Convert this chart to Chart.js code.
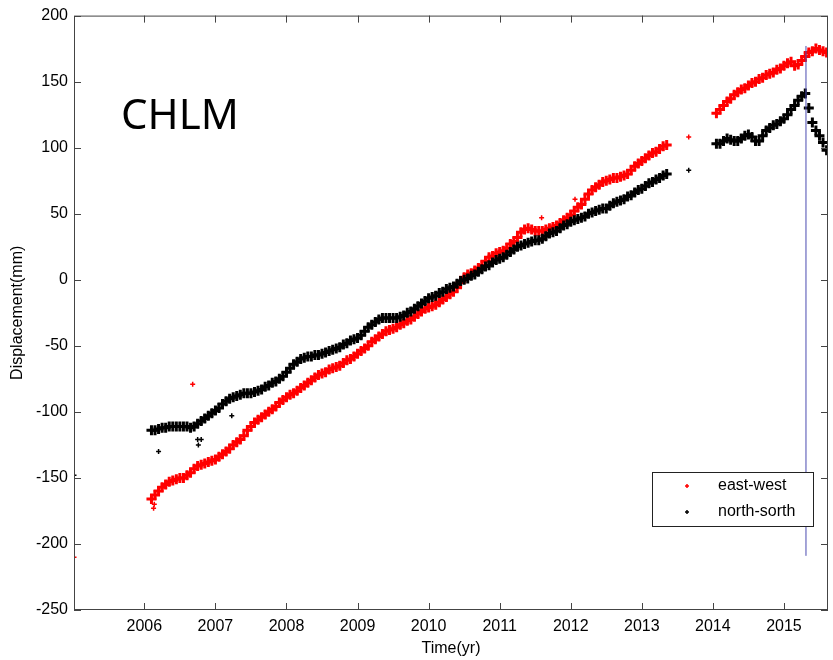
<!DOCTYPE html>
<html lang="en">
<head>
    <meta charset="UTF-8">
    <title>CHLM displacement</title>
    <script src="https://cdn.jsdelivr.net/npm/chart.js"></script>
    <style>
        body {
            margin: 0;
            background: white;
            overflow: hidden;
        }
        canvas {
            display: block;
        }
    </style>
</head>
<body>
    <canvas id="grafico" width="833" height="660"></canvas>

    <script>
        // epochs (decimal year) shared by both components
        const epochs = [
            2006.10,2006.15,2006.20,2006.25,2006.30,2006.35,2006.40,2006.45,2006.50,2006.55,2006.60,2006.65,2006.70,2006.75,2006.80,2006.85,2006.90,2006.95,
            2007.00,2007.05,2007.10,2007.15,2007.20,2007.25,2007.30,2007.35,2007.40,2007.45,2007.50,2007.55,2007.60,2007.65,2007.70,2007.75,2007.80,2007.85,2007.90,2007.95,
            2008.00,2008.05,2008.10,2008.15,2008.20,2008.25,2008.30,2008.35,2008.40,2008.45,2008.50,2008.55,2008.60,2008.65,2008.70,2008.75,2008.80,2008.85,2008.90,2008.95,
            2009.00,2009.05,2009.10,2009.15,2009.20,2009.25,2009.30,2009.35,2009.40,2009.45,2009.50,2009.55,2009.60,2009.65,2009.70,2009.75,2009.80,2009.85,2009.90,2009.95,
            2010.00,2010.05,2010.10,2010.15,2010.20,2010.25,2010.30,2010.35,2010.40,2010.45,2010.50,2010.55,2010.60,2010.65,2010.70,2010.75,2010.80,2010.85,2010.90,2010.95,
            2011.00,2011.05,2011.10,2011.15,2011.20,2011.25,2011.30,2011.35,2011.40,2011.45,2011.50,2011.55,2011.60,2011.65,2011.70,2011.75,2011.80,2011.85,2011.90,2011.95,
            2012.00,2012.05,2012.10,2012.15,2012.20,2012.25,2012.30,2012.35,2012.40,2012.45,2012.50,2012.55,2012.60,2012.65,2012.70,2012.75,2012.80,2012.85,2012.90,2012.95,
            2013.00,2013.05,2013.10,2013.15,2013.20,2013.25,2013.30,2013.35,
            2014.05,2014.10,2014.15,2014.20,2014.25,2014.30,2014.35,2014.40,2014.45,2014.50,2014.55,2014.60,2014.65,2014.70,2014.75,2014.80,2014.85,2014.90,2014.95,
            2015.00,2015.05,2015.10,2015.15,2015.20,2015.25,2015.30,2015.35,2015.40,2015.45,2015.50,2015.55,2015.60
        ];

        const eastWest = [
            -166,-163,-160,-157,-155,-153,-152,-151,-150,-150,-148,-146,-143,-141,-140,-139,-138,-137,
            -136,-134,-132,-130,-128,-125,-123,-121,-118,-114,-111,-108,-106,-104,-102,-100,-98,-96,-93,-91,
            -89,-87,-86,-84,-82,-80,-78,-76,-74,-72,-71,-70,-68,-67,-66,-65,-63,-61,-60,-58,
            -56,-54,-52,-50,-47,-45,-43,-41,-39,-38,-37,-36,-34,-33,-31,-30,-28,-26,-24,-22,
            -21,-20,-19,-17,-15,-13,-11,-9,-6,-2,2,4,5,7,9,11,14,17,18,20,
            21,22,24,27,29,32,36,38,39,38,37,37,37,38,39,40,41,43,45,47,
            49,52,55,57,61,65,68,70,72,74,75,76,77,77,78,79,80,83,86,88,
            90,92,94,96,97,99,101,102,
            126,129,132,135,137,140,142,144,145,147,149,150,152,153,155,156,157,159,160,
            162,164,165,162,163,166,169,172,173,175,174,173,172
        ];

        const northSouth = [
            -114,-114,-113,-112,-112,-111,-111,-111,-111,-111,-111,-112,-111,-109,-107,-105,-103,-101,
            -99,-97,-94,-92,-90,-89,-88,-87,-86,-86,-86,-85,-84,-83,-81,-80,-78,-77,-75,-73,
            -70,-67,-64,-62,-60,-59,-58,-58,-57,-57,-56,-55,-54,-53,-52,-51,-49,-48,-46,-45,
            -44,-42,-39,-36,-34,-32,-30,-29,-29,-29,-29,-29,-28,-27,-25,-24,-22,-20,-18,-16,
            -14,-13,-12,-10,-9,-7,-6,-5,-3,-1,0,1,3,4,6,8,10,11,13,15,
            16,17,19,21,23,25,26,27,28,29,30,30,31,33,35,36,37,39,41,42,
            44,45,46,47,48,50,51,52,53,54,54,56,58,59,60,61,63,64,66,68,
            69,71,73,74,76,77,79,80,
            103,103,105,107,106,105,105,107,109,110,108,105,105,109,113,115,117,118,120,
            122,125,129,132,136,139,141,130,119,113,109,104,98
        ];

        // isolated points off the main trend
        const ewOutlierYears = [2005.01, 2006.13, 2006.14, 2006.68, 2011.59, 2012.06, 2013.66];
        const ewOutlierValues = [-210, -173, -170, -79, 47, 61, 108];
        const nsOutlierYears = [2005.01, 2006.20, 2006.75, 2006.76, 2006.80, 2007.23, 2013.66];
        const nsOutlierValues = [-148, -130, -121, -125, -121, -103, 83];

        // vertical marker line
        const eventYear = 2015.31;
        const eventRange = [-209, 177];

        const yearTicks = [2006, 2007, 2008, 2009, 2010, 2011, 2012, 2013, 2014, 2015];
        const dispTicks = [-250, -200, -150, -100, -50, 0, 50, 100, 150, 200];
        const seriesNames = ["east-west", "north-sorth"];
        const stationName = "CHLM";

        function pares(anos, valores) {
            return anos.map((a, i) => ({ x: a, y: valores[i] }));
        }

        const tickFont = { family: "'Liberation Sans', Arial, sans-serif", size: 16 };

        const decoracao = {
            id: "decoracao",
            afterDraw(chart) {
                const ctx = chart.ctx;
                const a = chart.chartArea;
                const x = chart.scales.x;
                const y = chart.scales.y;
                ctx.save();

                // axes box
                ctx.strokeStyle = "#444";
                ctx.lineWidth = 1;
                ctx.strokeRect(a.left + 0.5, a.top + 0.5, a.right - a.left - 1, a.bottom - a.top - 1);

                // inward ticks on all four sides
                ctx.beginPath();
                yearTicks.forEach(v => {
                    const px = Math.round(x.getPixelForValue(v)) + 0.5;
                    ctx.moveTo(px, a.bottom);
                    ctx.lineTo(px, a.bottom - 7);
                    ctx.moveTo(px, a.top);
                    ctx.lineTo(px, a.top + 7);
                });
                dispTicks.forEach(v => {
                    const py = Math.round(y.getPixelForValue(v)) + 0.5;
                    ctx.moveTo(a.left, py);
                    ctx.lineTo(a.left + 7, py);
                    ctx.moveTo(a.right, py);
                    ctx.lineTo(a.right - 7, py);
                });
                ctx.stroke();

                // station name
                ctx.fillStyle = "#000";
                ctx.font = "42px 'Noto Sans', sans-serif";
                ctx.textAlign = "left";
                ctx.textBaseline = "alphabetic";
                ctx.fillText(stationName, a.left + 47, a.top + 113);

                // axis titles
                ctx.font = "16px 'Liberation Sans', Arial, sans-serif";
                ctx.textAlign = "center";
                ctx.textBaseline = "middle";
                ctx.fillText("Time(yr)", (a.left + a.right) / 2, 649);
                ctx.save();
                ctx.translate(18, (a.top + a.bottom) / 2);
                ctx.rotate(-Math.PI / 2);
                ctx.fillText("Displacement(mm)", 0, 0);
                ctx.restore();

                // legend
                const bx = a.right - 176, by = a.bottom - 138, bw = 161, bh = 54;
                ctx.fillStyle = "#fff";
                ctx.fillRect(bx, by, bw, bh);
                ctx.strokeStyle = "#222";
                ctx.strokeRect(bx + 0.5, by + 0.5, bw, bh);
                const cores = ["#ff0000", "#000000"];
                seriesNames.forEach((nome, i) => {
                    const ly = by + 14 + i * 26;
                    ctx.strokeStyle = cores[i];
                    ctx.lineWidth = 1.5;
                    ctx.beginPath();
                    ctx.moveTo(bx + 33, ly); ctx.lineTo(bx + 37, ly);
                    ctx.moveTo(bx + 35, ly - 2); ctx.lineTo(bx + 35, ly + 2);
                    ctx.stroke();
                    ctx.fillStyle = "#000";
                    ctx.textAlign = "left";
                    ctx.fillText(nome, bx + 66, ly);
                });

                ctx.restore();
            }
        };

        // dense daily band: big crosses so the cloud looks solid
        function banda(rotulo, dados, cor, ordem) {
            return {
                label: rotulo,
                data: dados,
                pointStyle: "cross",
                pointRadius: 5,
                borderWidth: 3,
                borderColor: cor,
                backgroundColor: cor,
                order: ordem
            };
        }
        function isolados(rotulo, dados, cor, ordem) {
            return {
                label: rotulo,
                data: dados,
                pointStyle: "cross",
                pointRadius: 2.5,
                borderWidth: 1.5,
                borderColor: cor,
                backgroundColor: cor,
                order: ordem
            };
        }

        new Chart(document.getElementById("grafico").getContext("2d"), {
            type: "scatter",
            data: {
                datasets: [
                    {
                        label: "marker",
                        data: [{ x: eventYear, y: eventRange[0] }, { x: eventYear, y: eventRange[1] }],
                        showLine: true,
                        borderColor: "#4b4bb0",
                        borderWidth: 1,
                        pointRadius: 0,
                        order: 0
                    },
                    banda(seriesNames[1], pares(epochs, northSouth), "#000000", 1),
                    isolados(seriesNames[1], pares(nsOutlierYears, nsOutlierValues), "#000000", 1),
                    banda(seriesNames[0], pares(epochs, eastWest), "#ff0000", 2),
                    isolados(seriesNames[0], pares(ewOutlierYears, ewOutlierValues), "#ff0000", 2)
                ]
            },
            options: {
                responsive: false,
                animation: false,
                layout: { autoPadding: false, padding: { top: 15, right: 5, left: 0, bottom: 0 } },
                plugins: {
                    legend: { display: false },
                    tooltip: { enabled: false }
                },
                scales: {
                    x: {
                        type: "linear",
                        min: 2005.01,
                        max: 2015.62,
                        grid: { display: false, drawTicks: false },
                        border: { display: false },
                        afterBuildTicks: s => { s.ticks = yearTicks.map(v => ({ value: v })); },
                        afterFit: s => { s.height = 50; },
                        ticks: {
                            color: "#000",
                            font: tickFont,
                            padding: 7,
                            maxRotation: 0,
                            callback: v => String(v)
                        }
                    },
                    y: {
                        type: "linear",
                        min: -250,
                        max: 200,
                        grid: { display: false, drawTicks: false },
                        border: { display: false },
                        afterBuildTicks: s => { s.ticks = dispTicks.map(v => ({ value: v })); },
                        afterFit: s => { s.width = 74; },
                        ticks: {
                            color: "#000",
                            font: tickFont,
                            padding: 6,
                            callback: v => String(v)
                        }
                    }
                }
            },
            plugins: [decoracao]
        });
    </script>
</body>
</html>
